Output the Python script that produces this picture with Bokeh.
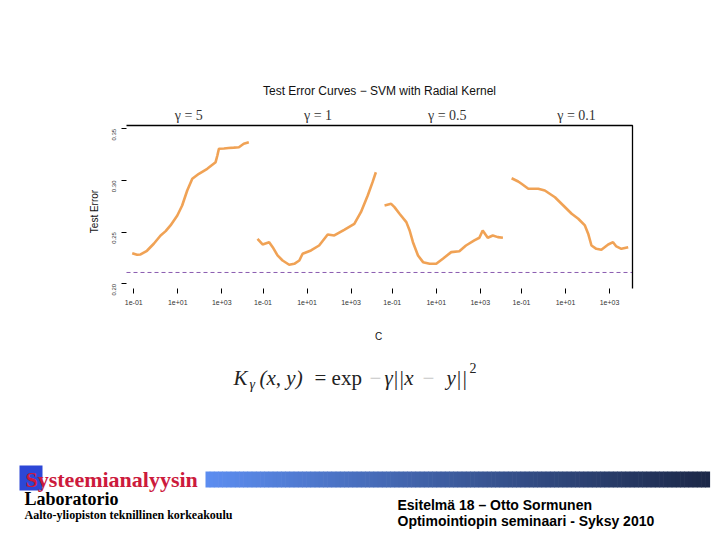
import math
from bokeh.plotting import figure
from bokeh.models import FixedTicker, PrintfTickFormatter, Label, Range1d, LinearAxis
from bokeh.embed import file_html
from bokeh.resources import INLINE

# ---------------- data ----------------
TITLE = "Test Error Curves \u2212 SVM with Radial Kernel"
GAMMA_LABELS = ["\u03b3 = 5", "\u03b3 = 1", "\u03b3 = 0.5", "\u03b3 = 0.1"]
X_TICK_LOG = [-1, 1, 3]
X_TICK_LABELS = ["1e-01", "1e+01", "1e+03"]
Y_TICKS = [0.20, 0.25, 0.30, 0.35]
BAYES_ERROR = 0.211

# log10(C) and test error for each gamma panel
logC_g5 = [-1.07, -0.85, -0.69, -0.40, -0.09, 0.22, 0.45, 0.67, 0.98, 1.20, 1.43, 1.66,
           1.96, 2.34, 2.72, 2.80, 2.87, 3.10, 3.31, 3.55, 3.78, 4.00, 4.23]
err_g5 = [0.2297, 0.2282, 0.2284, 0.2320, 0.2388, 0.2468, 0.2510, 0.2565, 0.2661, 0.2758,
          0.2903, 0.3016, 0.3065, 0.3113, 0.3177, 0.3242, 0.3307, 0.3310, 0.3314, 0.3318,
          0.3322, 0.3355, 0.3370]

logC_g1 = [-1.25, -1.02, -0.72, -0.56, -0.34, -0.11, 0.19, 0.42, 0.65, 0.80, 1.18, 1.55,
           1.94, 2.24, 2.69, 3.15, 3.45, 3.76, 3.98, 4.13]
err_g1 = [0.2436, 0.2381, 0.2403, 0.2355, 0.2275, 0.2226, 0.2185, 0.2194, 0.2226, 0.2291,
          0.2323, 0.2371, 0.2478, 0.2468, 0.2523, 0.2581, 0.2693, 0.2855, 0.2984, 0.3080]

logC_g05 = [-1.35, -1.05, -0.90, -0.67, -0.36, -0.21, -0.06, 0.17, 0.40, 0.70, 1.00, 1.30,
            1.68, 2.05, 2.35, 2.73, 2.96, 3.11, 3.34, 3.57, 3.80, 4.03]
err_g05 = [0.2758, 0.2774, 0.2742, 0.2678, 0.2597, 0.2516, 0.2403, 0.2275, 0.2210, 0.2194,
           0.2194, 0.2243, 0.2307, 0.2316, 0.2371, 0.2420, 0.2446, 0.2516, 0.2446, 0.2468,
           0.2452, 0.2446]

logC_g01 = [-1.45, -1.15, -1.00, -0.69, -0.24, 0.06, 0.52, 0.90, 1.28, 1.58, 1.88, 2.03,
            2.18, 2.40, 2.63, 2.94, 3.16, 3.31, 3.54, 3.85]
err_g01 = [0.3022, 0.2990, 0.2968, 0.2920, 0.2920, 0.2903, 0.2838, 0.2758, 0.2678, 0.2630,
           0.2565, 0.2485, 0.2371, 0.2339, 0.2330, 0.2381, 0.2403, 0.2362, 0.2339, 0.2355]

PANELS = [(logC_g5, err_g5), (logC_g1, err_g1), (logC_g05, err_g05), (logC_g01, err_g01)]

# ---------------- layout constants ----------------
W, H = 720, 540
PANEL_GAP = 5.875            # decades between panel origins on the shared axis
X_LIM = (-1.33, 21.67)       # plotting region in combined log10(C) units
Y_LIM = (0.1955, 0.3532)     # plotting region in test-error units
PLOT_LEFT, PLOT_RIGHT, PLOT_TOP, PLOT_BOTTOM = 126, 632, 125, 288   # slide pixels
CURVE_COLOR = "#ef9d4c"

# data ranges chosen so that the plotting region sits at its place on the slide
xs_per_px = (X_LIM[1] - X_LIM[0]) / (PLOT_RIGHT - PLOT_LEFT)
ys_per_px = (Y_LIM[1] - Y_LIM[0]) / (PLOT_BOTTOM - PLOT_TOP)
x_range = Range1d(X_LIM[0] - PLOT_LEFT * xs_per_px, X_LIM[1] + (W - PLOT_RIGHT) * xs_per_px)
y_range = Range1d(Y_LIM[0] - (H - PLOT_BOTTOM) * ys_per_px, Y_LIM[1] + PLOT_TOP * ys_per_px)

p = figure(width=W, height=H, output_backend="svg", toolbar_location=None,
           x_range=x_range, y_range=y_range, min_border=0,
           x_axis_location=None, y_axis_location=None, outline_line_color=None,
           background_fill_color="white", border_fill_color="white")
p.xgrid.visible = False
p.ygrid.visible = False
p.extra_x_ranges = {"px": Range1d(0, W)}
p.extra_y_ranges = {"px": Range1d(H, 0)}

# curves
for k, (lc, er) in enumerate(PANELS):
    xs = [k * PANEL_GAP + v for v in lc]
    p.line(xs, er, line_color=CURVE_COLOR, line_width=2.6, line_alpha=0.95)

# Bayes error and panel box (top and right edges)
p.line([X_LIM[0], X_LIM[1]], [BAYES_ERROR, BAYES_ERROR], line_color="#8a5cb0",
       line_dash="4 3", line_width=1)
p.line([X_LIM[0], X_LIM[1], X_LIM[1]], [Y_LIM[1], Y_LIM[1], Y_LIM[0]],
       line_color="black", line_width=1.3)

# x axis
ticks = []
overrides = {}
for k in range(4):
    for t, lab_ in zip(X_TICK_LOG, X_TICK_LABELS):
        v = k * PANEL_GAP + t
        ticks.append(v)
        overrides[v] = lab_
xa = LinearAxis(fixed_location=Y_LIM[0], ticker=FixedTicker(ticks=ticks, minor_ticks=[]),
                major_label_overrides=overrides, axis_line_color=None,
                major_tick_out=5, major_tick_in=0, minor_tick_line_color=None,
                major_label_standoff=6, major_label_text_font="Liberation Sans",
                major_label_text_font_size="7px", major_label_text_color="#333333")
p.add_layout(xa, "below")

ya = LinearAxis(fixed_location=X_LIM[0], ticker=FixedTicker(ticks=Y_TICKS, minor_ticks=[]),
                formatter=PrintfTickFormatter(format="%.2f"), axis_line_color=None,
                major_tick_out=5, major_tick_in=0, minor_tick_line_color=None,
                major_label_orientation=math.pi / 2, major_label_standoff=7,
                major_label_text_font="Liberation Sans", major_label_text_font_size="6px",
                major_label_text_color="#333333")
p.add_layout(ya, "left")


def lab(txt, X, Y, size, font="Liberation Sans", style="normal", color="#111111",
        align="center", angle=0.0):
    p.add_layout(Label(x=X, y=H - Y, x_units="screen", y_units="screen", text=txt,
                       text_align=align, text_baseline="middle", text_font=font,
                       text_font_size=size, text_font_style=style, text_color=color,
                       angle=angle))


# title, axis titles, panel strips
lab(TITLE, 379, 90, "12px")
lab("Test Error", 94, 211, "10px", angle=math.pi / 2)
lab("C", 378, 336, "10px")
for k, g in enumerate(GAMMA_LABELS):
    p.add_layout(Label(x=k * PANEL_GAP + 1.5, y=H - 115, x_units="data", y_units="screen",
                       text=g, text_align="center", text_baseline="middle",
                       text_font="Liberation Serif", text_font_size="14px",
                       text_color="#333333"))

# kernel formula (vertical centres)
FORMULA = [
    ("K", 233, 377, "21px", "italic", "#222222"),
    ("\u03b3", 249, 384, "14px", "italic", "#222222"),
    ("(x, y)", 259, 377, "21px", "italic", "#222222"),
    ("= exp", 314, 377, "21px", "normal", "#222222"),
    ("\u2212", 369, 377, "21px", "normal", "#c8c8c8"),
    ("\u03b3||x", 384, 377, "21px", "italic", "#222222"),
    ("\u2212", 422, 377, "21px", "normal", "#c8c8c8"),
    ("y||", 446, 377, "21px", "italic", "#222222"),
    ("2", 469, 367, "14px", "normal", "#222222"),
]
for txt, X, Y, fs, st, col in FORMULA:
    lab(txt, X, Y, fs, font="Liberation Serif", style=st, color=col, align="left")

# ---------------- footer ----------------
N = 120
c0 = (92, 141, 240)
c1 = (28, 40, 72)
x0, x1 = 205, 709
lefts, rights, cols = [], [], []
for i in range(N):
    t = i / (N - 1)
    lefts.append(x0 + (x1 - x0) * i / N)
    rights.append(x0 + (x1 - x0) * (i + 1) / N + 0.6)
    cols.append("#%02x%02x%02x" % tuple(int(round(a + (b - a) * t)) for a, b in zip(c0, c1)))
p.quad(left=lefts, right=rights, top=471, bottom=487, color=cols, line_color=None,
       x_range_name="px", y_range_name="px")
p.quad(left=19, right=42, top=465, bottom=490, color="#2d47d6", line_color=None,
       x_range_name="px", y_range_name="px")

FOOT = [
    ("Systeemianalyysin", 25, 479, "22px", "bold", "#cc1a3c", "Liberation Serif"),
    ("Laboratorio", 24, 498, "18px", "bold", "#000000", "Liberation Serif"),
    ("Aalto-yliopiston teknillinen korkeakoulu", 24, 514, "12px", "bold", "#000000",
     "Liberation Serif"),
    ("Esitelm\u00e4 18 \u2013 Otto Sormunen", 397, 504, "14px", "bold", "#000000",
     "Liberation Sans"),
    ("Optimointiopin seminaari - Syksy 2010", 397, 520, "14px", "bold", "#000000",
     "Liberation Sans"),
]
for txt, X, Y, fs, st, col, font in FOOT:
    lab(txt, X, Y, fs, font=font, style=st, color=col, align="left")

open("out.html", "w").write(file_html(p, INLINE))
